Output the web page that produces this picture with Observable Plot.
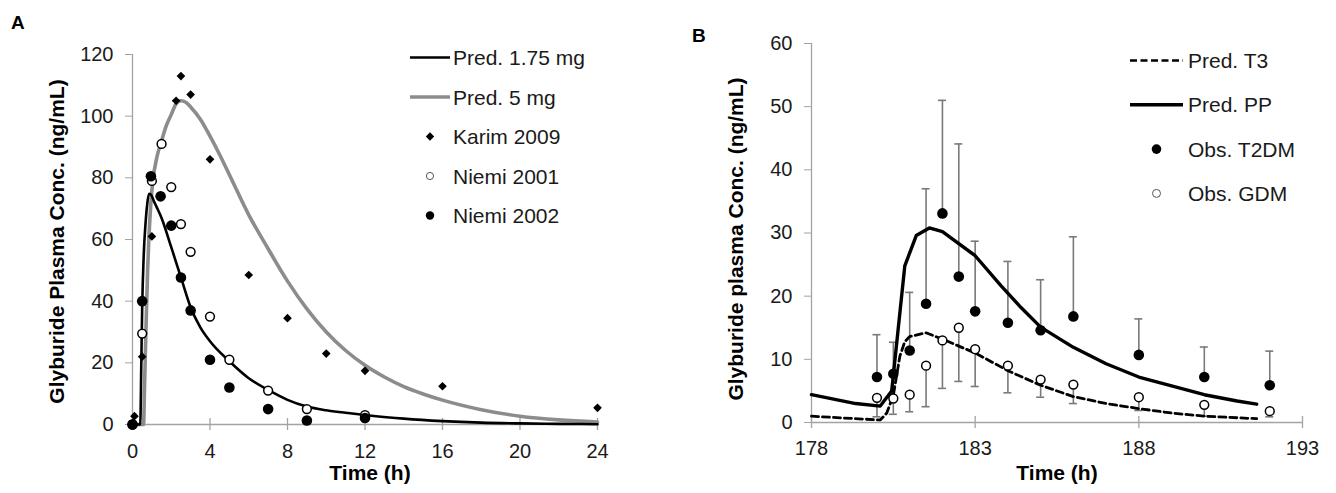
<!DOCTYPE html>
<html>
<head>
<meta charset="utf-8">
<script src="https://cdn.jsdelivr.net/npm/d3@7"></script>
<script src="https://cdn.jsdelivr.net/npm/@observablehq/plot@0.6"></script>
<style>
  html, body { margin: 0; padding: 0; background: #fff; }
  #fig { position: relative; width: 1336px; height: 493px; overflow: hidden; font-family: "Liberation Sans", Arial, sans-serif; }
  #fig .panel { position: absolute; top: 0; }
  #overlay { position: absolute; left: 0; top: 0; pointer-events: none; }
</style>
</head>
<body>
<div id="fig"></div>
<script>
// ---------- Panel A: single-dose glyburide, healthy volunteers ----------
const xTicksA = [0, 4, 8, 12, 16, 20, 24];
const yTicksA = [0, 20, 40, 60, 80, 100, 120];

// Predicted profile, 1.75 mg dose (time h, conc ng/mL)
const pred175Time = [0, 0.4, 0.45, 0.5, 0.58, 0.67, 0.76, 0.85, 0.95, 1.1, 1.25, 1.5, 2, 2.5, 3, 3.5, 4, 5, 6, 7, 8, 9, 10, 11, 12, 14, 16, 18, 20, 22, 24];
const pred175Conc = [0, 0, 18, 38, 55, 65, 71.5, 74.8, 74.6, 72.5, 70.5, 67, 57.5, 47.7, 38, 31.5, 27, 20.5, 15, 11.2, 8, 5.8, 4.6, 3.8, 3.1, 1.9, 1.1, 0.6, 0.35, 0.2, 0.1];

// Predicted profile, 5 mg dose
const pred5Time = [0, 0.57, 0.62, 0.7, 0.78, 0.85, 0.95, 1.05, 1.25, 1.5, 1.75, 2, 2.25, 2.5, 2.75, 3, 3.5, 4, 4.5, 5, 6, 7, 8, 9, 10, 11, 12, 13, 14, 15, 16, 18, 20, 22, 24];
const pred5Conc = [0, 0, 12, 32, 50, 61, 72, 79, 86.5, 92, 97, 100.5, 104, 105, 104.5, 103, 99, 93.5, 87.5, 81, 68, 57, 46.5, 37.5, 30, 24, 19.2, 15.4, 12.3, 9.9, 7.9, 4.8, 2.7, 1.5, 0.8];

// Observed: Karim 2009
const karimTime = [0, 0.1, 0.5, 1, 2.25, 2.5, 3, 4, 6, 8, 10, 12, 16, 24];
const karimConc = [0, 2.7, 22, 61, 105, 113, 107, 86, 48.5, 34.5, 23, 17.4, 12.4, 5.4];

// Observed: Niemi 2001
const niemi01Time = [0, 0.5, 1, 1.5, 2, 2.5, 3, 4, 5, 7, 9, 12];
const niemi01Conc = [0, 29.5, 79, 91, 77, 65, 56, 35, 21, 11, 5, 3];

// Observed: Niemi 2002
const niemi02Time = [0, 0.5, 0.95, 1.45, 2, 2.5, 3, 4, 5, 7, 9, 12];
const niemi02Conc = [0, 40, 80.5, 74, 64.5, 47.7, 37, 21, 12, 5, 1.3, 2.1];

// ---------- Panel B: multiple dosing, pregnancy vs postpartum ----------
const xTicksB = [178, 183, 188, 193];
const yTicksB = [0, 10, 20, 30, 40, 50, 60];

const predPPTime = [178, 179.35, 180.1, 180.45, 180.85, 181.2, 181.6, 182, 183, 183.8, 184.4, 185, 186, 187, 188, 189, 190, 191, 191.6];
const predPPConc = [4.4, 3.0, 2.6, 5, 24.8, 29.6, 30.8, 30.2, 26.4, 21.6, 18.2, 15.1, 11.9, 9.3, 7.2, 5.8, 4.4, 3.4, 2.9];

const predT3Time = [178, 179, 180.1, 180.3, 180.5, 180.7, 180.85, 181, 181.5, 182, 183, 184, 185, 186, 187, 188, 189, 190, 191, 191.6];
const predT3Conc = [1.0, 0.7, 0.4, 1.5, 4.3, 10.5, 12.8, 13.6, 14.2, 13.2, 11.0, 8.2, 5.9, 4.1, 3.0, 2.2, 1.5, 1.0, 0.75, 0.6];

const obsTime = [180, 180.5, 181, 181.5, 182, 182.5, 183, 184, 185, 186, 188, 190, 192];
const t2dmMean = [7.2, 7.7, 11.4, 18.8, 33.1, 23.1, 17.6, 15.8, 14.6, 16.8, 10.7, 7.2, 5.9];
const t2dmSD   = [6.7, 5.0, 9.2, 18.2, 17.9, 21.0, 11.1, 9.7, 8.0, 12.6, 5.7, 4.75, 5.4];
const gdmMean  = [3.9, 3.8, 4.4, 9.0, 13.0, 15.0, 11.6, 9.0, 6.8, 6.0, 4.0, 2.8, 1.8];
const gdmSD    = [3.0, 2.5, 2.7, 6.5, 7.6, 8.5, 5.9, 4.3, 2.8, 3.0, 2.1, 1.8, 0.9];

// ---------- shared styling ----------
const FONT = '"Liberation Sans", Arial, Helvetica, sans-serif';
const AXIS = "#a3a3a3";
const INK = "#1a1a1a";
const GREY_LINE = "#8c8c8c";
const BAR = "#7a7a7a";

const rows = (ts, cs) => ts.map((t, i) => ({t, c: cs[i]}));

function axisMarks(xTicks, yTicks, x0, xPad, yPad) {
  return [
    Plot.ruleX([x0], {stroke: AXIS, strokeWidth: 1.3}),
    Plot.ruleY([0], {stroke: AXIS, strokeWidth: 1.3}),
    Plot.axisY(yTicks, {tickSize: 7, tickPadding: yPad, stroke: AXIS, fill: INK, label: null, fontSize: 20}),
    Plot.axisX(xTicks, {tickSize: 0, tickPadding: xPad, fill: INK, label: null, fontSize: 20}),
    // x ticks cross the axis line
    Plot.ruleX(xTicks, {x: d => d, y1: 0, y2: 0, insetTop: -6, insetBottom: -6, stroke: AXIS, strokeWidth: 1.3})
  ];
}

function titleMarks(xTitle, yTitle, xdx, xdy, ydx, ydy) {
  return [
    Plot.text([xTitle], {text: d => d, frameAnchor: "bottom", textAnchor: "middle", lineAnchor: "top", dx: xdx, dy: xdy,
      fontWeight: "bold", fontSize: 21, fill: "#000"}),
    Plot.text([yTitle], {text: d => d, frameAnchor: "left", textAnchor: "middle", lineAnchor: "middle", rotate: -90, dx: ydx, dy: ydy,
      fontWeight: "bold", fontSize: 21, fill: "#000"})
  ];
}

const fig = document.getElementById("fig");

// Panel A
const plotA = Plot.plot({
  width: 660, height: 493,
  marginLeft: 132, marginRight: 63, marginTop: 54, marginBottom: 69,
  x: {domain: [0, 24]},
  y: {domain: [0, 120]},
  style: {fontFamily: FONT, fontSize: "20px", color: INK, background: "transparent", overflow: "visible"},
  marks: [
    ...axisMarks(xTicksA, yTicksA, 0, 19, 12),
    Plot.line(rows(pred5Time, pred5Conc), {x: "t", y: "c", stroke: GREY_LINE, strokeWidth: 3.6, curve: "monotone-x"}),
    Plot.line(rows(pred175Time, pred175Conc), {x: "t", y: "c", stroke: "#000", strokeWidth: 2.6, curve: "monotone-x"}),
    Plot.dot(rows(karimTime, karimConc), {x: "t", y: "c", symbol: "diamond2", r: 3.9, fill: "#000", stroke: "none"}),
    Plot.dot(rows(niemi01Time, niemi01Conc), {x: "t", y: "c", r: 4.4, fill: "#fff", stroke: "#000", strokeWidth: 1.5}),
    Plot.dot(rows(niemi02Time, niemi02Conc), {x: "t", y: "c", r: 5.3, fill: "#000", stroke: "none"}),
    ...titleMarks("Time (h)", "Glyburide Plasma Conc. (ng/mL)", 5, 41, -75, 2)
  ]
});
plotA.classList.add("panel");
plotA.style.left = "0px";
fig.appendChild(plotA);

// Panel B
const obsRows = obsTime.map((t, i) => ({t, t2dm: t2dmMean[i], t2dmSD: t2dmSD[i], gdm: gdmMean[i], gdmSD: gdmSD[i]}));
const plotB = Plot.plot({
  width: 656, height: 493,
  marginLeft: 131, marginRight: 34, marginTop: 43, marginBottom: 71,
  x: {domain: [178, 193]},
  y: {domain: [0, 60]},
  style: {fontFamily: FONT, fontSize: "20px", color: INK, background: "transparent", overflow: "visible"},
  marks: [
    ...axisMarks(xTicksB, yTicksB, 178, 18, 12),
    // error bars: T2DM upward, GDM downward, each with a cap
    Plot.ruleX(obsRows, {x: "t", y1: "t2dm", y2: d => d.t2dm + d.t2dmSD, stroke: BAR, strokeWidth: 1.6}),
    Plot.ruleY(obsRows, {y: d => d.t2dm + d.t2dmSD, x1: "t", x2: "t", insetLeft: -4, insetRight: -4, stroke: BAR, strokeWidth: 1.6}),
    Plot.ruleX(obsRows, {x: "t", y1: d => d.gdm - d.gdmSD, y2: "gdm", stroke: BAR, strokeWidth: 1.6}),
    Plot.ruleY(obsRows, {y: d => d.gdm - d.gdmSD, x1: "t", x2: "t", insetLeft: -4, insetRight: -4, stroke: BAR, strokeWidth: 1.6}),
    Plot.line(rows(predT3Time, predT3Conc), {x: "t", y: "c", stroke: "#000", strokeWidth: 2.8, strokeDasharray: "7,4"}),
    Plot.line(rows(predPPTime, predPPConc), {x: "t", y: "c", stroke: "#000", strokeWidth: 3.4}),
    Plot.dot(obsRows, {x: "t", y: "t2dm", r: 5.3, fill: "#000", stroke: "none"}),
    Plot.dot(obsRows, {x: "t", y: "gdm", r: 4.4, fill: "#fff", stroke: "#000", strokeWidth: 1.5}),
    ...titleMarks("Time (h)", "Glyburide plasma Conc. (ng/mL)", 0, 43, -75, 6)
  ]
});
plotB.classList.add("panel");
plotB.style.left = "680px";
fig.appendChild(plotB);

// ---------- panel letters and legends ----------
const legendA = [
  {label: "Pred. 1.75 mg", kind: "line", stroke: "#000", width: 2.6},
  {label: "Pred. 5 mg", kind: "line", stroke: GREY_LINE, width: 3.6},
  {label: "Karim 2009", kind: "diamond"},
  {label: "Niemi 2001", kind: "open"},
  {label: "Niemi 2002", kind: "filled"}
];
const legendB = [
  {label: "Pred. T3", kind: "line", stroke: "#000", width: 2.6, dash: "7,3.5"},
  {label: "Pred. PP", kind: "line", stroke: "#000", width: 3.4},
  {label: "Obs. T2DM", kind: "filled"},
  {label: "Obs. GDM", kind: "open"}
];

const svg = d3.select(fig).append("svg").attr("id", "overlay")
  .attr("width", 1336).attr("height", 493)
  .style("font-family", FONT);

svg.append("text").attr("x", 11).attr("y", 29).attr("font-size", 19).attr("font-weight", "bold").text("A");
svg.append("text").attr("x", 692).attr("y", 42).attr("font-size", 19).attr("font-weight", "bold").text("B");

function drawLegend(items, x0, x1, textX, y0, step, mr) {
  const g = svg.append("g");
  items.forEach((it, i) => {
    const y = y0 + i * step;
    const cx = (x0 + x1) / 2;
    if (it.kind === "line") {
      g.append("line").attr("x1", x0).attr("x2", x1).attr("y1", y).attr("y2", y)
        .attr("stroke", it.stroke).attr("stroke-width", it.width)
        .attr("stroke-dasharray", it.dash || null);
    } else if (it.kind === "diamond") {
      const s = mr.diamond;
      g.append("path").attr("d", `M${cx},${y - s}L${cx + s},${y}L${cx},${y + s}L${cx - s},${y}Z`).attr("fill", "#000");
    } else if (it.kind === "open") {
      g.append("circle").attr("cx", cx).attr("cy", y).attr("r", mr.open)
        .attr("fill", "#fff").attr("stroke", "#555").attr("stroke-width", 1);
    } else {
      g.append("circle").attr("cx", cx).attr("cy", y).attr("r", mr.filled).attr("fill", "#000");
    }
    g.append("text").attr("x", textX).attr("y", y).attr("dy", "0.36em")
      .attr("font-size", 21).attr("fill", INK).text(it.label);
  });
}

drawLegend(legendA, 410, 450, 453, 57.5, 39.5, {diamond: 4.2, open: 3.6, filled: 4.2});
drawLegend(legendB, 1130, 1183, 1188, 60.5, 44.3, {diamond: 4.2, open: 4, filled: 4.8});
</script>
</body>
</html>
